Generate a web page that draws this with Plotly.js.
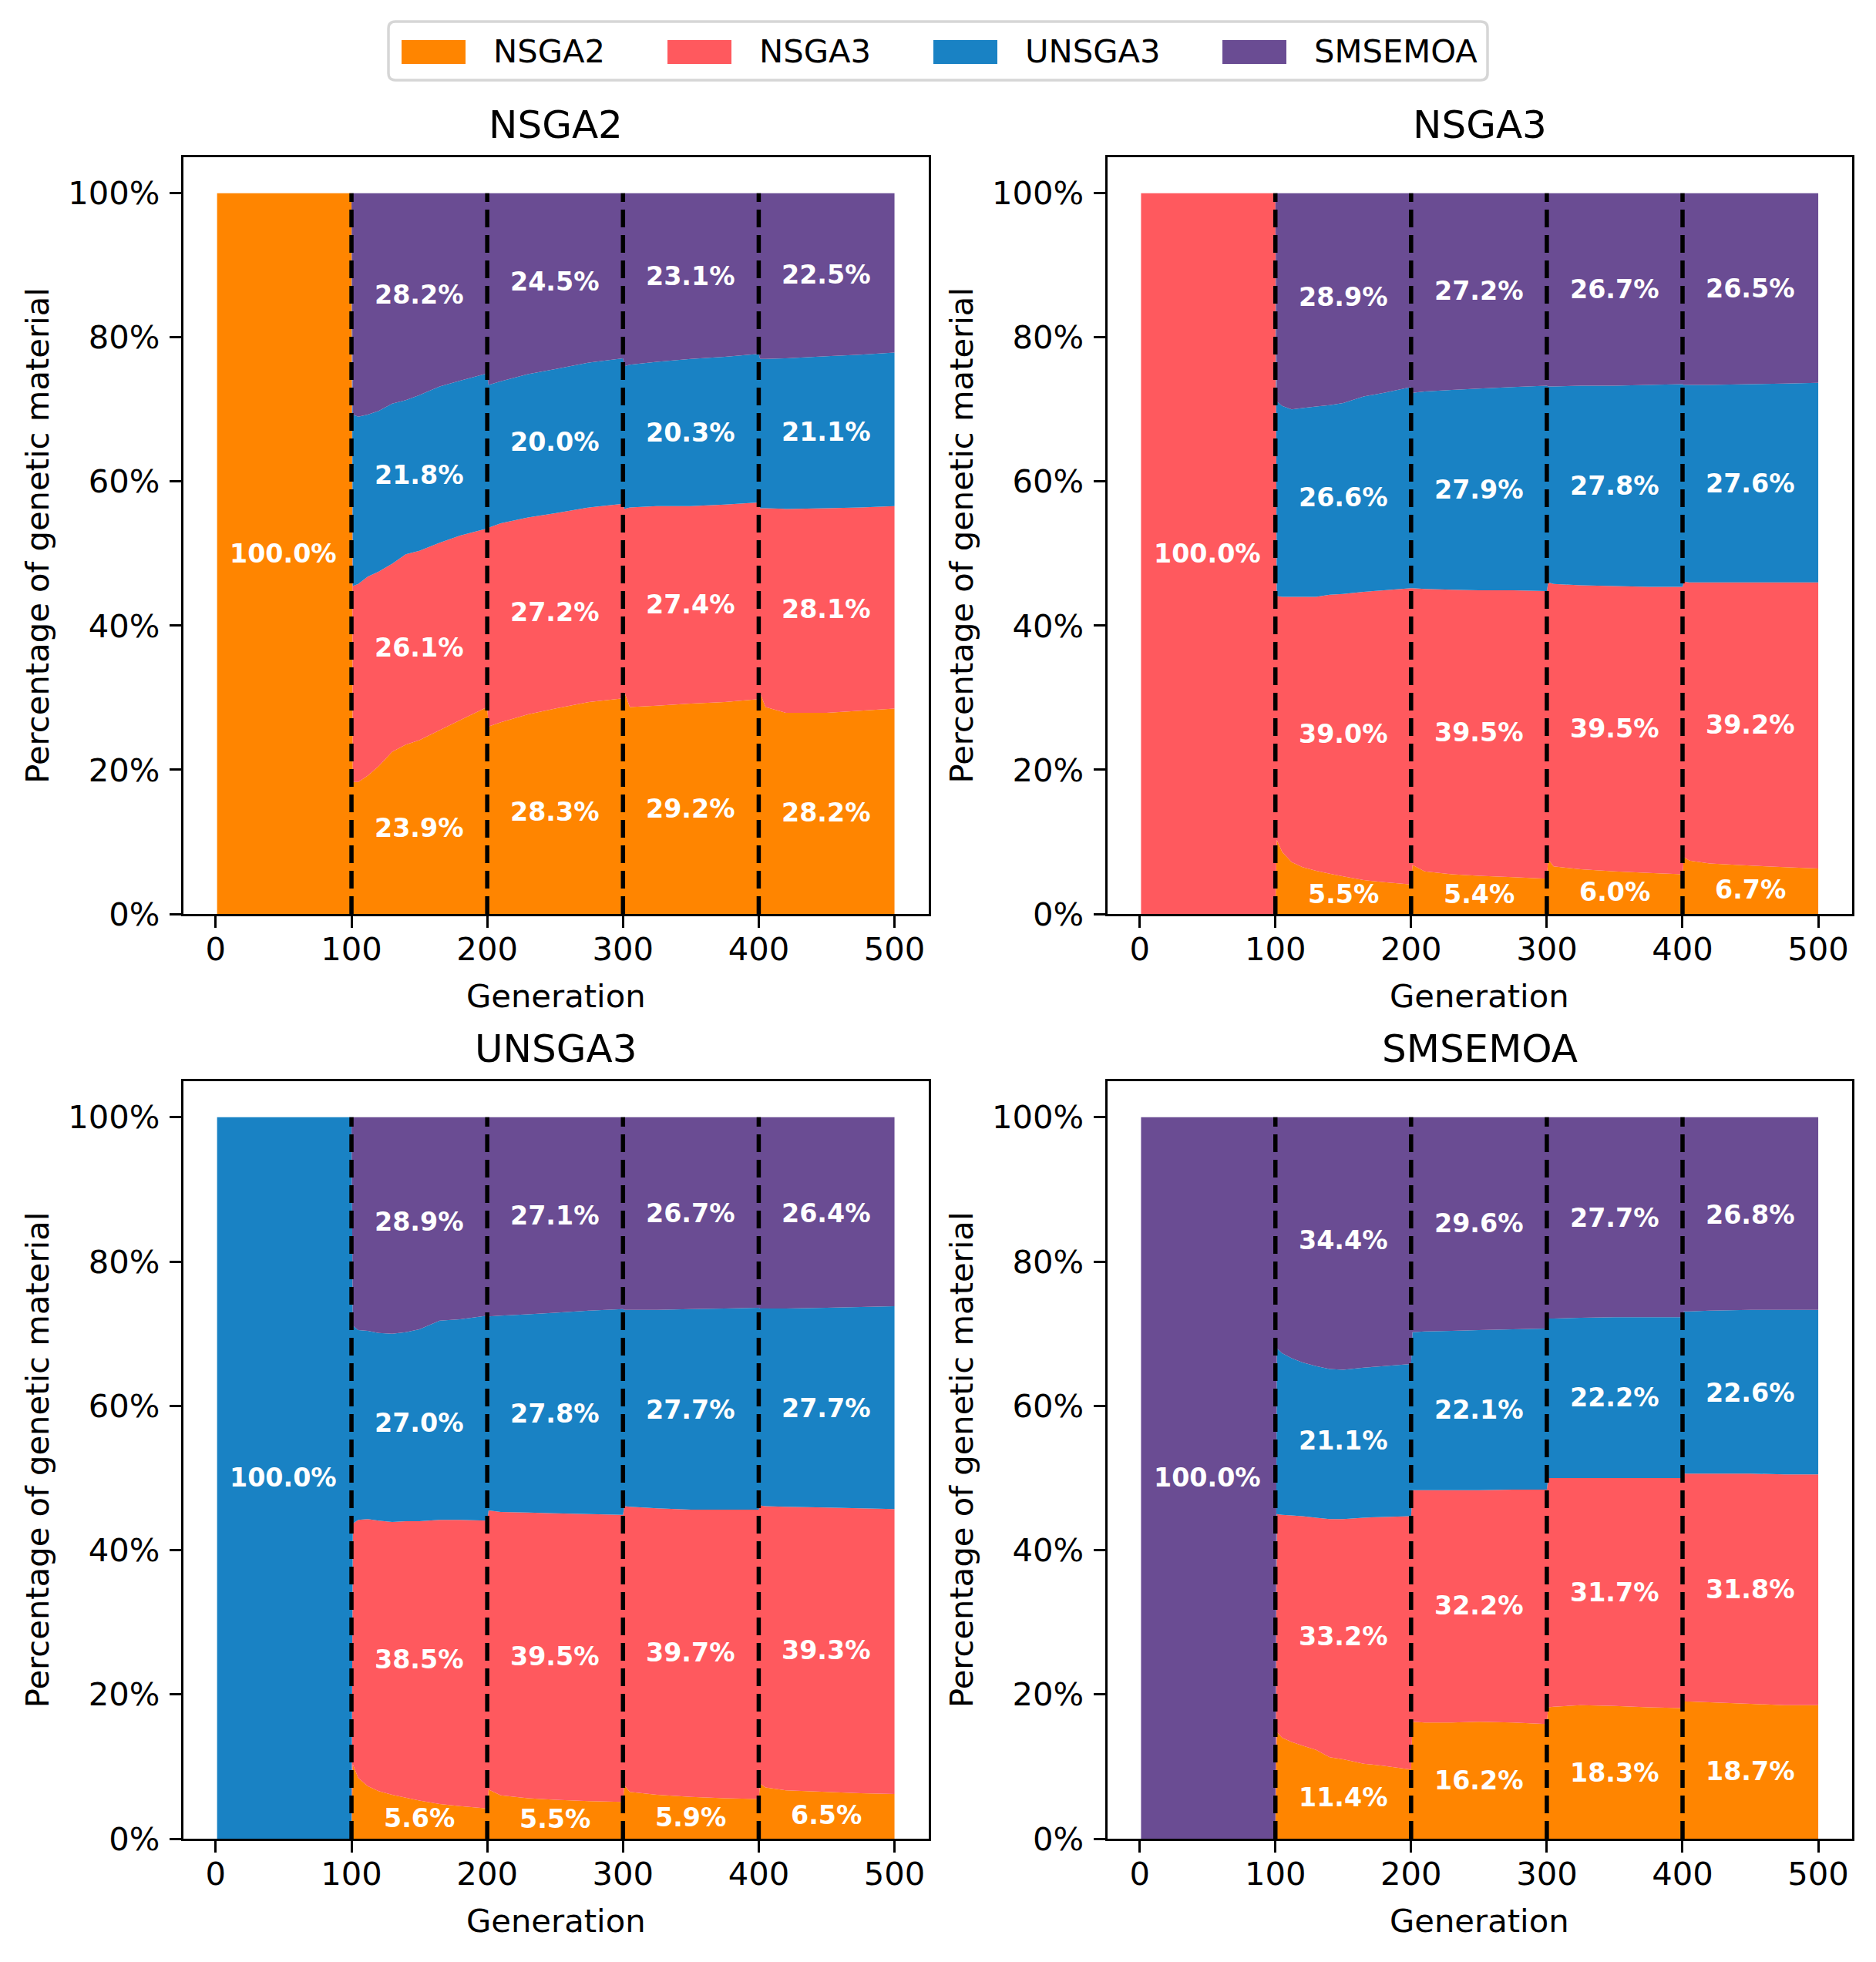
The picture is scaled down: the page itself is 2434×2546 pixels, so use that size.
<!DOCTYPE html>
<html>
<head>
<meta charset="utf-8">
<script src="https://cdn.plot.ly/plotly-3.0.1.min.js"></script>
<style>
  html, body { margin: 0; padding: 0; background: #ffffff; }
  #chart { width: 2434px; height: 2546px; }
</style>
</head>
<body>
<div id="chart"></div>
<script>
// Generations at which the population composition is sampled
const GEN = [1, 100, 101, 105, 112, 120, 130, 140, 150, 165, 180, 200,
             201, 210, 230, 250, 275, 300, 301, 305, 325, 350, 375, 400,
             401, 405, 420, 450, 475, 500];

const ALGOS = ['NSGA2', 'NSGA3', 'UNSGA3', 'SMSEMOA'];
const COLORS = ['#ff8500', '#ff595e', '#1982c4', '#6a4c93'];
const X_TICKS = [0, 100, 200, 300, 400, 500];
const Y_TICKS = [0, 20, 40, 60, 80, 100];
const Y_TICK_LABELS = ['0%', '20%', '40%', '60%', '80%', '100%'];
const BOUNDARIES = [100, 200, 300, 400];
const SEG_MID = [150, 250, 350, 450];

// ---- Population of NSGA2: share (%) of genetic material by origin ----
const nsga2Pop_NSGA2   = [100, 100, 18.3, 18.3, 19.2, 20.5, 22.5, 23.5, 24.1, 25.5, 26.9, 28.7, 26.0, 26.6, 27.7, 28.5, 29.4, 29.9, 30.8, 28.7, 28.9, 29.2, 29.4, 29.8, 30.6, 28.7, 27.9, 27.9, 28.2, 28.5];
const nsga2Pop_NSGA3   = [0, 0, 27.2, 27.5, 27.6, 27.0, 26.1, 26.4, 26.3, 26.0, 25.6, 24.8, 27.6, 27.6, 27.3, 27.1, 27.0, 27.0, 25.4, 27.7, 27.7, 27.4, 27.4, 27.3, 25.7, 27.6, 28.3, 28.4, 28.2, 28.1];
const nsga2Pop_UNSGA3  = [0, 0, 23.8, 23.2, 22.5, 22.3, 22.2, 21.4, 21.6, 21.7, 21.5, 21.5, 19.8, 19.7, 19.9, 20.0, 20.1, 20.2, 19.8, 19.8, 20.0, 20.4, 20.5, 20.6, 20.7, 20.7, 20.9, 21.1, 21.2, 21.3];
const nsga2Pop_SMSEMOA = [0, 0, 30.7, 31.0, 30.7, 30.2, 29.2, 28.7, 28.0, 26.8, 26.0, 25.0, 26.6, 26.1, 25.1, 24.4, 23.5, 22.9, 24.0, 23.8, 23.4, 23.0, 22.7, 22.3, 23.0, 23.0, 22.9, 22.6, 22.4, 22.1];

// ---- Population of NSGA3 ----
const nsga3Pop_NSGA2   = [0, 0, 10.3, 8.6, 7.2, 6.5, 6.0, 5.6, 5.2, 4.7, 4.4, 4.1, 6.8, 5.9, 5.5, 5.3, 5.1, 4.9, 7.6, 6.6, 6.2, 5.9, 5.7, 5.5, 7.9, 7.4, 7.0, 6.7, 6.5, 6.3];
const nsga3Pop_NSGA3   = [100, 100, 33.8, 35.4, 36.8, 37.5, 38.0, 38.7, 39.2, 40.0, 40.5, 41.1, 38.4, 39.2, 39.5, 39.6, 39.8, 39.9, 38.4, 39.2, 39.4, 39.6, 39.7, 39.9, 38.2, 38.6, 39.0, 39.3, 39.5, 39.7];
const nsga3Pop_UNSGA3  = [0, 0, 27.0, 26.5, 26.0, 26.2, 26.4, 26.3, 26.5, 27.1, 27.4, 27.9, 27.1, 27.4, 27.7, 28.0, 28.2, 28.5, 27.2, 27.4, 27.7, 27.8, 28.0, 28.1, 27.3, 27.4, 27.4, 27.5, 27.6, 27.7];
const nsga3Pop_SMSEMOA = [0, 0, 28.9, 29.5, 30.0, 29.8, 29.6, 29.4, 29.1, 28.2, 27.7, 26.9, 27.7, 27.5, 27.3, 27.1, 26.9, 26.7, 26.8, 26.8, 26.7, 26.7, 26.6, 26.5, 26.6, 26.6, 26.6, 26.5, 26.4, 26.3];

// ---- Population of UNSGA3 ----
const unsga3Pop_NSGA2   = [0, 0, 10.3, 8.4, 7.3, 6.6, 6.1, 5.7, 5.3, 4.8, 4.5, 4.2, 6.8, 6.0, 5.6, 5.4, 5.2, 5.1, 7.4, 6.5, 6.1, 5.8, 5.6, 5.5, 7.6, 7.1, 6.7, 6.5, 6.3, 6.2];
const unsga3Pop_NSGA3   = [0, 0, 33.4, 35.8, 37.0, 37.5, 37.8, 38.3, 38.7, 39.4, 39.7, 39.9, 38.7, 39.3, 39.6, 39.7, 39.8, 39.8, 38.7, 39.5, 39.7, 39.8, 40.0, 40.1, 38.6, 39.0, 39.3, 39.4, 39.5, 39.5];
const unsga3Pop_UNSGA3  = [100, 100, 27.4, 26.3, 26.1, 26.0, 26.1, 26.2, 26.6, 27.6, 27.8, 28.4, 26.9, 27.2, 27.5, 27.8, 28.2, 28.5, 27.2, 27.3, 27.5, 27.8, 27.9, 28.0, 27.3, 27.4, 27.5, 27.7, 27.9, 28.1];
const unsga3Pop_SMSEMOA = [0, 0, 28.9, 29.5, 29.6, 29.9, 30.0, 29.8, 29.4, 28.2, 28.0, 27.5, 27.6, 27.5, 27.3, 27.1, 26.8, 26.6, 26.7, 26.7, 26.7, 26.6, 26.5, 26.4, 26.5, 26.5, 26.5, 26.4, 26.3, 26.2];

// ---- Population of SMSEMOA ----
const smsemoaPop_NSGA2   = [0, 0, 14.8, 14.0, 13.4, 12.9, 12.3, 11.3, 11.0, 10.4, 10.1, 9.6, 16.2, 16.1, 16.1, 16.2, 16.1, 15.9, 18.2, 18.3, 18.5, 18.4, 18.2, 18.1, 19.0, 19.0, 18.9, 18.7, 18.5, 18.5];
const smsemoaPop_NSGA3   = [0, 0, 30.2, 30.9, 31.4, 31.8, 32.2, 33.0, 33.3, 34.1, 34.5, 35.1, 32.1, 32.2, 32.2, 32.1, 32.3, 32.5, 31.8, 31.7, 31.5, 31.6, 31.8, 31.9, 31.6, 31.6, 31.7, 31.9, 32.0, 32.0];
const smsemoaPop_UNSGA3  = [0, 0, 23.0, 22.4, 21.8, 21.3, 21.0, 20.8, 20.7, 20.8, 20.9, 21.1, 21.9, 22.0, 22.1, 22.2, 22.2, 22.3, 22.1, 22.1, 22.2, 22.3, 22.3, 22.3, 22.5, 22.5, 22.6, 22.7, 22.8, 22.8];
const smsemoaPop_SMSEMOA = [100, 100, 32.0, 32.7, 33.4, 34.0, 34.5, 34.9, 35.0, 34.7, 34.5, 34.2, 29.8, 29.7, 29.6, 29.5, 29.4, 29.3, 27.9, 27.9, 27.8, 27.7, 27.7, 27.7, 26.9, 26.9, 26.8, 26.7, 26.7, 26.7];

// Mean share of each origin within each 100-generation block (rows: NSGA2, NSGA3, UNSGA3, SMSEMOA)
const nsga2Means   = [[23.9, 28.3, 29.2, 28.2], [26.1, 27.2, 27.4, 28.1], [21.8, 20.0, 20.3, 21.1], [28.2, 24.5, 23.1, 22.5]];
const nsga3Means   = [[5.5, 5.4, 6.0, 6.7], [39.0, 39.5, 39.5, 39.2], [26.6, 27.9, 27.8, 27.6], [28.9, 27.2, 26.7, 26.5]];
const unsga3Means  = [[5.6, 5.5, 5.9, 6.5], [38.5, 39.5, 39.7, 39.3], [27.0, 27.8, 27.7, 27.7], [28.9, 27.1, 26.7, 26.4]];
const smsemoaMeans = [[11.4, 16.2, 18.3, 18.7], [33.2, 32.2, 31.7, 31.8], [21.1, 22.1, 22.2, 22.6], [34.4, 29.6, 27.7, 26.8]];

const W = 2434, H = 2546;
const FONT = 'DejaVu Sans, Liberation Sans, sans-serif';

// Pixel geometry of the 2x2 grid
const COLS = [[237.7, 1204.5], [1436.5, 2403]];
const ROWS = [[204, 1186], [1403, 2386]];

const panels = [
  { title: 'NSGA2',   series: [nsga2Pop_NSGA2, nsga2Pop_NSGA3, nsga2Pop_UNSGA3, nsga2Pop_SMSEMOA], means: nsga2Means, col: 0, row: 0 },
  { title: 'NSGA3',   series: [nsga3Pop_NSGA2, nsga3Pop_NSGA3, nsga3Pop_UNSGA3, nsga3Pop_SMSEMOA], means: nsga3Means, col: 1, row: 0 },
  { title: 'UNSGA3',  series: [unsga3Pop_NSGA2, unsga3Pop_NSGA3, unsga3Pop_UNSGA3, unsga3Pop_SMSEMOA], means: unsga3Means, col: 0, row: 1 },
  { title: 'SMSEMOA', series: [smsemoaPop_NSGA2, smsemoaPop_NSGA3, smsemoaPop_UNSGA3, smsemoaPop_SMSEMOA], means: smsemoaMeans, col: 1, row: 1 }
];

const px2x = p => p / W;
const px2y = p => 1 - p / H;

const traces = [];
const layout = {
  width: W, height: H,
  margin: { l: 0, r: 0, t: 0, b: 0, pad: 0 },
  paper_bgcolor: '#ffffff',
  plot_bgcolor: '#ffffff',
  showlegend: false,
  font: { family: FONT, color: '#000000' },
  shapes: [],
  annotations: []
};

panels.forEach((p, i) => {
  const n = i === 0 ? '' : String(i + 1);
  const xa = 'x' + n, ya = 'y' + n;
  const [xl, xr] = COLS[p.col];
  const [yt, yb] = ROWS[p.row];

  layout['xaxis' + n] = {
    domain: [px2x(xl), px2x(xr)],
    range: [-23.95, 524.95],
    anchor: ya,
    tickmode: 'array', tickvals: X_TICKS,
    ticks: 'outside', ticklen: 15, tickwidth: 3, tickcolor: '#000',
    ticklabelstandoff: -8,
    showline: true, linewidth: 3, linecolor: '#000', mirror: true,
    showgrid: false, zeroline: false, fixedrange: true,
    tickfont: { family: FONT, size: 41.7, color: '#000' }
  };
  layout['yaxis' + n] = {
    domain: [px2y(yb), px2y(yt)],
    range: [0, 105],
    anchor: xa,
    tickmode: 'array', tickvals: Y_TICKS, ticktext: Y_TICK_LABELS,
    ticks: 'outside', ticklen: 15, tickwidth: 3, tickcolor: '#000',
    ticklabelstandoff: 4,
    showline: true, linewidth: 3, linecolor: '#000', mirror: true,
    showgrid: false, zeroline: false, fixedrange: true,
    tickfont: { family: FONT, size: 41.7, color: '#000' }
  };

  // Stacked areas, one per origin algorithm
  p.series.forEach((vals, k) => {
    traces.push({
      type: 'scatter', x: GEN, y: vals, xaxis: xa, yaxis: ya,
      stackgroup: 'pop' + i, mode: 'none',
      fillcolor: COLORS[k], line: { width: 0 },
      name: ALGOS[k], hoverinfo: 'skip', showlegend: false
    });
  });

  // Dashed markers at the block boundaries
  BOUNDARIES.forEach(g => {
    layout.shapes.push({
      type: 'line', xref: xa, yref: ya, x0: g, x1: g, y0: 0, y1: 100,
      line: { color: '#000', width: 5.5, dash: '23px,10px' }, layer: 'above'
    });
  });

  // Block-mean labels
  layout.annotations.push({
    xref: xa, yref: ya, x: 50, y: 50, text: '<b>100.0%</b>', showarrow: false,
    font: { family: FONT, size: 33.3, color: '#ffffff' }, xanchor: 'center', yanchor: 'middle'
  });
  SEG_MID.forEach((gx, s) => {
    let base = 0;
    p.means.forEach((row) => {
      const v = row[s];
      layout.annotations.push({
        xref: xa, yref: ya, x: gx, y: base + v / 2,
        text: '<b>' + v.toFixed(1) + '%</b>', showarrow: false,
        font: { family: FONT, size: 33.3, color: '#ffffff' },
        xanchor: 'center', yanchor: 'middle'
      });
      base += v;
    });
  });

  // Panel title and axis titles
  const cx = (xl + xr) / 2;
  layout.annotations.push({
    xref: 'paper', yref: 'paper', x: px2x(cx), y: px2y(yt - 42),
    text: p.title, showarrow: false, xanchor: 'center', yanchor: 'middle',
    font: { family: FONT, size: 50, color: '#000' }
  });
  layout.annotations.push({
    xref: 'paper', yref: 'paper', x: px2x(cx), y: px2y(yb + 106),
    text: 'Generation', showarrow: false, xanchor: 'center', yanchor: 'middle',
    font: { family: FONT, size: 41.7, color: '#000' }
  });
  layout.annotations.push({
    xref: 'paper', yref: 'paper', x: px2x(xl - 189), y: px2y((yt + yb) / 2),
    text: 'Percentage of genetic material', showarrow: false, textangle: -90,
    xanchor: 'center', yanchor: 'middle',
    font: { family: FONT, size: 41.7, color: '#000' }
  });
});

// Legend drawn across the top: rounded frame, colour patches and names
(function drawLegend() {
  const x0 = 504, x1 = 1930, y0 = 28, y1 = 104, r = 9;
  const X = v => px2x(v), Y = v => px2y(v);
  const path = [
    'M', X(x0 + r), Y(y0), 'L', X(x1 - r), Y(y0),
    'Q', X(x1), Y(y0), X(x1), Y(y0 + r),
    'L', X(x1), Y(y1 - r),
    'Q', X(x1), Y(y1), X(x1 - r), Y(y1),
    'L', X(x0 + r), Y(y1),
    'Q', X(x0), Y(y1), X(x0), Y(y1 - r),
    'L', X(x0), Y(y0 + r),
    'Q', X(x0), Y(y0), X(x0 + r), Y(y0), 'Z'
  ].join(' ');
  layout.shapes.push({
    type: 'path', xref: 'paper', yref: 'paper', path: path,
    fillcolor: '#ffffff', line: { color: '#d6d6d6', width: 3.5 }, layer: 'above'
  });
  const patchX = [521, 866, 1211, 1586];
  patchX.forEach((px, k) => {
    layout.shapes.push({
      type: 'rect', xref: 'paper', yref: 'paper',
      x0: X(px), x1: X(px + 83), y0: Y(52), y1: Y(83),
      fillcolor: COLORS[k], line: { width: 0 }, layer: 'above'
    });
    layout.annotations.push({
      xref: 'paper', yref: 'paper', x: X(px + 117), y: Y(67),
      text: ALGOS[k], showarrow: false, xanchor: 'left', yanchor: 'middle',
      font: { family: FONT, size: 41.7, color: '#000' }
    });
  });
})();

Plotly.newPlot('chart', traces, layout, { staticPlot: true, displayModeBar: false });
</script>
</body>
</html>
